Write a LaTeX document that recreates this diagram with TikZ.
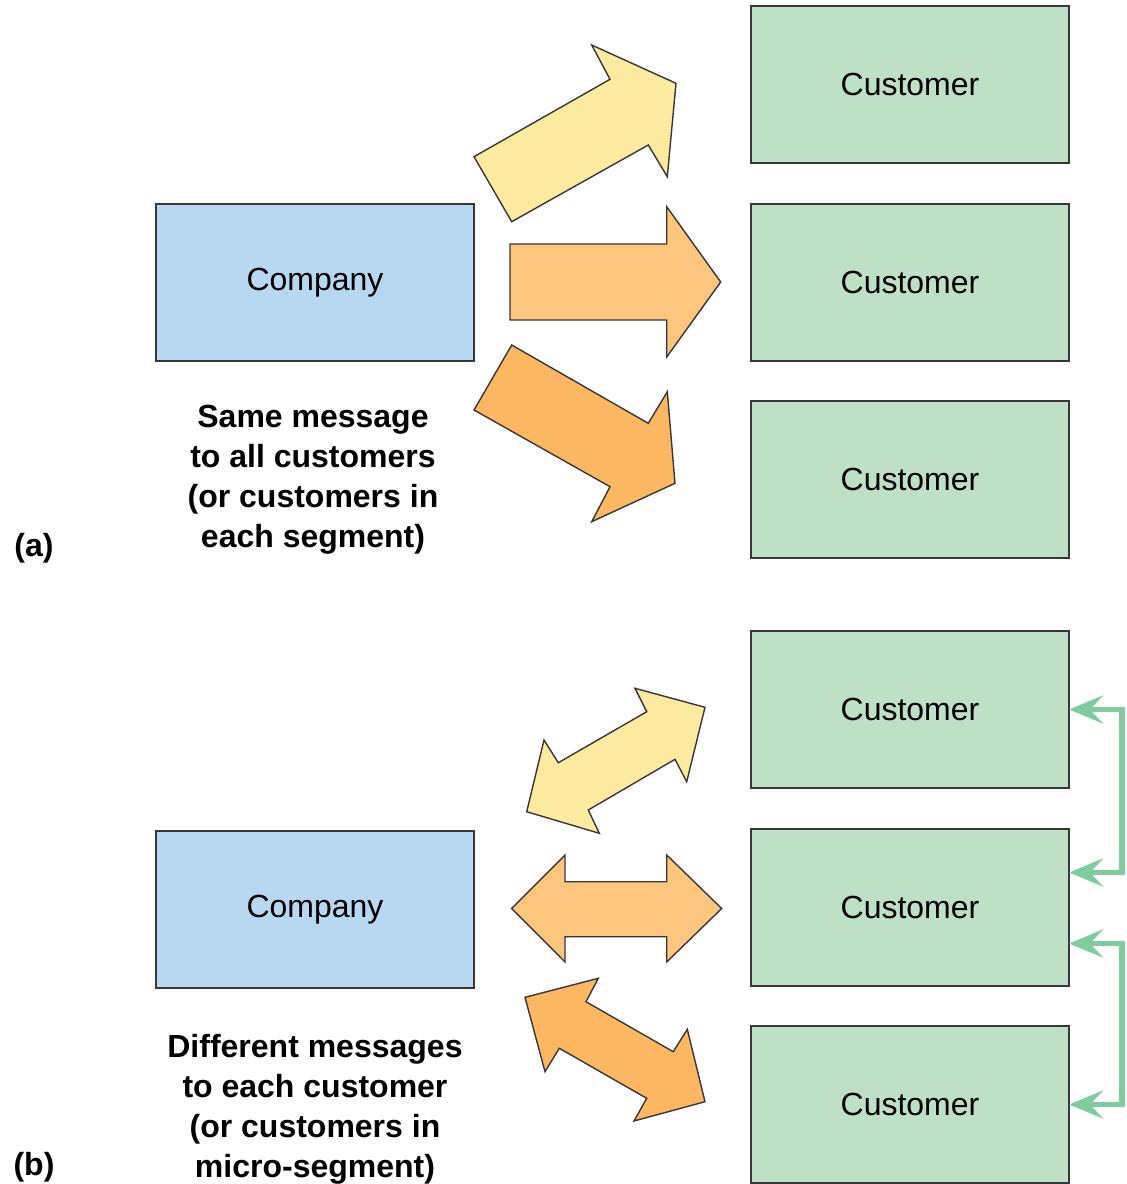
\documentclass[tikz,border=0pt]{standalone}
\usepackage{fontspec}
\setmainfont{Liberation Sans}
\usetikzlibrary{arrows.meta,calc}
\definecolor{compblue}{RGB}{184,215,240}
\definecolor{custgreen}{RGB}{189,224,199}
\definecolor{arryellow}{RGB}{252,234,160}
\definecolor{arrorange}{RGB}{253,198,126}
\definecolor{arrdark}{RGB}{252,183,98}
\definecolor{fbgreen}{RGB}{128,204,158}
\definecolor{edge}{RGB}{55,55,55}
\begin{document}
\begin{tikzpicture}[x=0.5pt,y=-0.5pt,
  box/.style={draw=edge,line width=0.8pt,minimum width=159pt,minimum height=78.5pt,outer sep=0pt,inner sep=0pt,font=\fontsize{16}{20}\selectfont},
  company/.style={box,fill=compblue},
  customer/.style={box,fill=custgreen},
  caption/.style={align=center,font=\fontsize{16}{20}\selectfont\bfseries},
  bigarrow/.style={draw=edge,line width=0.7pt,line join=miter},
  fb/.style={draw=fbgreen,line width=2.7pt,{Stealth[length=17pt,width=14pt,inset=6.5pt]}-{Stealth[length=17pt,width=14pt,inset=6.5pt]}}
]
\useasboundingbox (0,0) rectangle (1126,1184);
% ---------- (a)
\node[company] (compa) at (315,282.5) {Company};
\node[customer] (a1) at (910,84.5) {Customer};
\node[customer] (a2) at (910,282.5) {Customer};
\node[customer] (a3) at (910,479.5) {Customer};
\node[caption] (capa) at (313,480) {Same message\\to all customers\\(or customers in\\each segment)};
\node[font=\fontsize{16}{20}\selectfont\bfseries] (laba) at (34,548) {(a)};
\fill[arryellow,bigarrow] (511.7,221.7) -- (474,156.7) -- (610,79.3) -- (591.7,45) -- (676,83.3) -- (667.3,176.7) -- (648.3,145) -- cycle;
\fill[arrorange,bigarrow] (510,244) -- (666.7,244) -- (666.7,206.7) -- (720.7,282) -- (666.7,357) -- (666.7,320) -- (510,320) -- cycle;
\fill[arrdark,bigarrow] (511.7,345) -- (474,410) -- (610,486.7) -- (591.7,521.7) -- (675,483.3) -- (667.3,391.7) -- (648.3,423.3) -- cycle;
% ---------- (b)
\node[company] (compb) at (315,909.5) {Company};
\node[customer] (b1) at (910,709.5) {Customer};
\node[customer] (b2) at (910,907.5) {Customer};
\node[customer] (b3) at (910,1104.5) {Customer};
\node[caption] (capb) at (315,1109) {Different messages\\to each customer\\(or customers in\\micro-segment)};
\node[font=\fontsize{16}{20}\selectfont\bfseries] (labb) at (34,1167) {(b)};
\fill[arryellow,bigarrow] (705,707.3) -- (635,688.3) -- (646.7,711.7) -- (558.3,762.7) -- (544,740) -- (526.7,811.7) -- (599.3,833.3) -- (588.3,810) -- (675,759.3) -- (686.7,781.7) -- cycle;
\fill[arrorange,bigarrow] (511.7,908.5) -- (565,855) -- (565,881.7) -- (666.7,881.7) -- (666.7,855) -- (721.7,908.5) -- (666.7,962) -- (666.7,936.7) -- (565,936.7) -- (565,962) -- cycle;
\fill[arrdark,bigarrow] (525,997.3) -- (598.3,978.3) -- (586,1001.7) -- (673.3,1051.7) -- (687.3,1029.3) -- (705,1101.7) -- (634,1121) -- (646.7,1098.3) -- (559.3,1048.3) -- (545,1071.7) -- cycle;
% feedback arrows
\coordinate (t1) at ($(b2.east)+(0,-35)$);
\coordinate (t2) at ($(b2.east)+(0,36)$);
\draw[fb] (b1.east) -- ++(53,0) |- (t1);
\draw[fb] (t2) -- ++(53,0) |- (b3.east);
\end{tikzpicture}
\end{document}
